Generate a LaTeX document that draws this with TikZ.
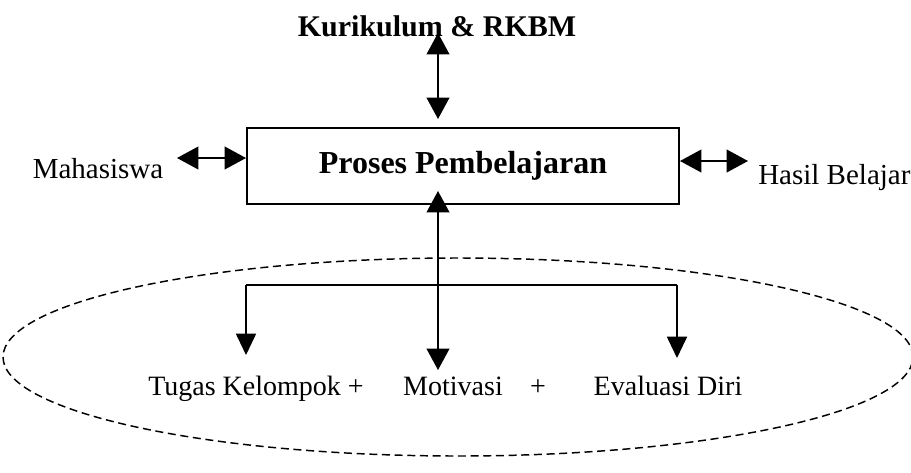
\documentclass[tikz,border=0pt]{standalone}
\usepackage{fontspec}
\setmainfont{Liberation Serif}
\usetikzlibrary{arrows.meta}
\begin{document}
\begin{tikzpicture}[x=0.75pt,y=-0.75pt,
  lbl/.style={inner sep=0pt,anchor=base,font=\fontsize{21.75pt}{26pt}\selectfont},
  bot/.style={inner sep=0pt,anchor=base,font=\fontsize{21pt}{25pt}\selectfont},
  procbox/.style={draw,line width=1.5pt,minimum width=324pt,minimum height=57pt,inner sep=0pt,
    font=\bfseries\fontsize{24pt}{28pt}\selectfont},
  dbl/.style={line width=1.4pt,{Triangle[length=16pt,width=17pt]}-{Triangle[length=16pt,width=17pt]}},
  arr/.style={line width=1.4pt,-{Triangle[length=16pt,width=15pt]}},
  ring/.style={dashed,dash pattern=on 6pt off 3.5pt,line width=1.1pt}]
\useasboundingbox (0,0) rectangle (911,472);

% dashed ellipse
\draw[ring] (458,357) ellipse [x radius=341.25pt, y radius=74.25pt];

% nodes
\node[lbl,font=\bfseries\fontsize{22.5pt}{27pt}\selectfont] (kur) at (437,36) {Kurikulum \& RKBM};
\node[procbox] (box) at (463,166) {Proses Pembelajaran};
\node[lbl] (mhs) at (98,178) {Mahasiswa};
\node[lbl,anchor=base west] (hasil) at (758,184) {Hasil Belajar};
\node[bot] (tk) at (256,395) {Tugas Kelompok +};
\node[bot] (mot) at (453,395) {Motivasi};
\node[bot] (plus) at (538,395) {+};
\node[bot] (ev) at (668,395) {Evaluasi Diri};

% coordinates for connector ends
\coordinate (kt) at (438,33);
\coordinate (kb) at (438,119);
\coordinate (ml) at (177,158);
\coordinate (hr) at (748,161);
\coordinate (up) at (438,191);
\coordinate (mid) at (438,370);
\coordinate (jl) at (246,285);
\coordinate (jr) at (677,285);
\coordinate (tl) at (246,355);
\coordinate (tr) at (677,358);

% connectors
\draw[dbl] (kt) -- (kb);
\draw[dbl] (ml) -- (ml -| box.west);
\draw[dbl] (hr -| box.east) -- (hr);
\draw[dbl] (up) -- (mid);
\draw[line width=1.4pt] (jl) -- (jr);
\draw[arr] (jl) -- (tl);
\draw[arr] (jr) -- (tr);
\end{tikzpicture}
\end{document}
